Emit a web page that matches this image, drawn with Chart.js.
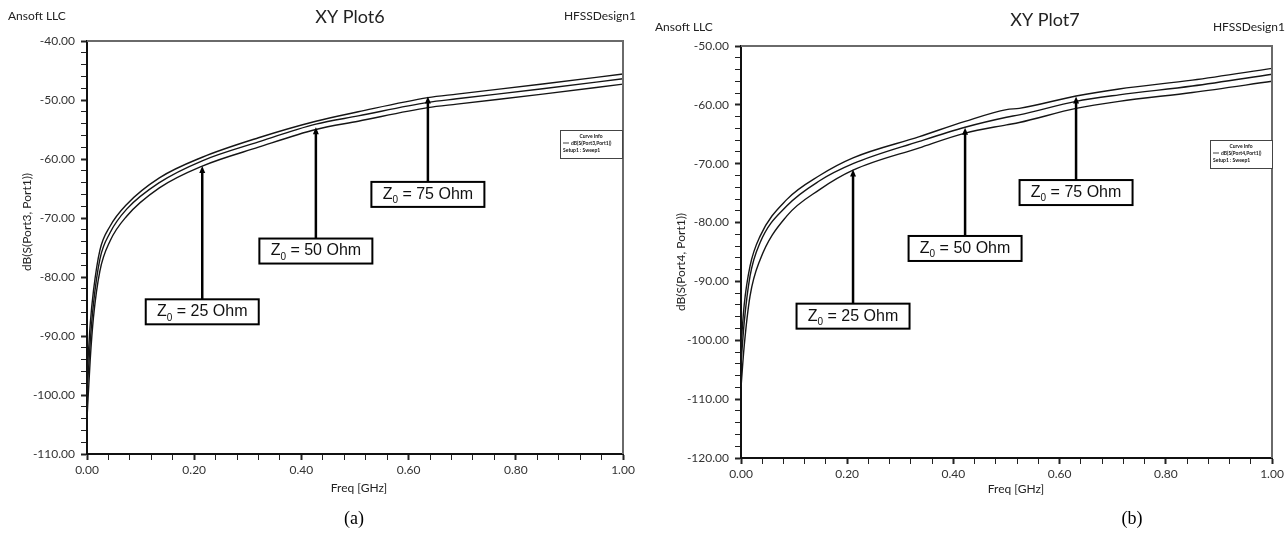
<!DOCTYPE html>
<html>
<head>
<meta charset="utf-8">
<script src="https://cdn.jsdelivr.net/npm/chart.js@4.4.1/dist/chart.umd.min.js"></script>
<style>
	html, body { margin: 0; padding: 0; background: #fff; }
	#wrapA { position: absolute; left: 0; top: 0; width: 640px; height: 533px; }
	#wrapB { position: absolute; left: 640px; top: 0; width: 647px; height: 533px; }
</style>
</head>
<body>
<div id="wrapA"><canvas id="plotA" width="640" height="533"></canvas></div>
<div id="wrapB"><canvas id="plotB" width="647" height="533"></canvas></div>
<script>
// (a) XY Plot6 : dB(S(Port3,Port1))
const freqA = [0, 0.006, 0.012, 0.024, 0.043, 0.074, 0.135, 0.215, 0.32, 0.427, 0.506, 0.636, 0.69, 0.85, 1.0];
const z75A = [-97, -88, -82.4, -75.5, -71.4, -67.7, -63.2, -59.7, -56.4, -53.6, -52.0, -49.6, -49.0, -47.3, -45.6];
const z50A = [-100, -91, -84.6, -77.0, -72.5, -68.5, -64.0, -60.3, -57.1, -54.1, -52.7, -50.4, -49.8, -48.1, -46.4];
const z25A = [-104, -94, -86.9, -79.0, -73.9, -69.7, -64.9, -61.2, -58.0, -55.0, -53.6, -51.3, -50.7, -49.0, -47.3];

// (b) XY Plot7 : dB(S(Port4,Port1))
const freqB = [0, 0.006, 0.017, 0.036, 0.086, 0.148, 0.211, 0.336, 0.422, 0.50, 0.524, 0.631, 0.712, 0.85, 1.0];
const z75B = [-101, -94, -87.4, -82.3, -76.1, -72.0, -69.0, -65.4, -62.8, -60.8, -60.6, -58.5, -57.3, -55.8, -53.8];
const z50B = [-104, -97, -89.1, -83.4, -77.2, -72.9, -70.0, -66.2, -63.8, -62.1, -61.7, -59.4, -58.3, -56.8, -54.8];
const z25B = [-108, -101, -92.5, -86.3, -78.9, -74.4, -71.1, -67.3, -64.8, -63.4, -63.0, -60.6, -59.4, -57.9, -56.0];

// arrow labels
const noteOhms = ['25', '50', '75'];
const noteFreqA = [0.215, 0.427, 0.636];
const noteTipA = [-61.2, -54.6, -49.4];
const noteBoxA = [-85.9, -75.6, -66.0];
const noteFreqB = [0.211, 0.422, 0.631];
const noteTipB = [-71.0, -63.9, -58.6];
const noteBoxB = [-95.9, -84.4, -74.9];

const uiFont = 'Lato, "Open Sans", sans-serif';

function toPoints(xs, ys) {
	return xs.map((x, i) => ({x: x, y: ys[i]}));
}

function makeDataset(xs, ys) {
	return {
		data: toPoints(xs, ys),
		borderColor: '#151515',
		borderWidth: 1.4,
		pointRadius: 0,
		fill: false,
		cubicInterpolationMode: 'monotone'
	};
}

function drawNote(ctx, chart, f, tip, boxY, ohm) {
	let xs = chart.scales.x;
	let ys = chart.scales.y;
	let x = xs.getPixelForValue(f);
	let yTip = ys.getPixelForValue(tip);
	let yBox = ys.getPixelForValue(boxY);
	let w = 113, h = 25;
	let top = yBox - h / 2;

	ctx.save();
	ctx.strokeStyle = '#000';
	ctx.fillStyle = '#000';
	ctx.lineWidth = 2.5;
	ctx.beginPath();
	ctx.moveTo(x, top);
	ctx.lineTo(x, yTip + 4);
	ctx.stroke();
	ctx.beginPath();
	ctx.moveTo(x, yTip);
	ctx.lineTo(x - 3, yTip + 7);
	ctx.lineTo(x + 3, yTip + 7);
	ctx.closePath();
	ctx.fill();

	ctx.fillStyle = '#fff';
	ctx.fillRect(x - w / 2, top, w, h);
	ctx.lineWidth = 2;
	ctx.strokeRect(x - w / 2, top, w, h);

	ctx.fillStyle = '#111';
	ctx.textBaseline = 'middle';
	ctx.textAlign = 'left';
	ctx.font = '16px "Liberation Sans", Arial, sans-serif';
	let rest = ' = ' + ohm + ' Ohm';
	let zw = ctx.measureText('Z').width;
	ctx.font = '10px "Liberation Sans", Arial, sans-serif';
	let sw = ctx.measureText('0').width;
	ctx.font = '16px "Liberation Sans", Arial, sans-serif';
	let rw = ctx.measureText(rest).width;
	let sx = x - (zw + sw + rw) / 2;
	ctx.fillText('Z', sx, yBox);
	ctx.font = '10px "Liberation Sans", Arial, sans-serif';
	ctx.fillText('0', sx + zw, yBox + 6);
	ctx.font = '16px "Liberation Sans", Arial, sans-serif';
	ctx.fillText(rest, sx + zw + sw, yBox);
	ctx.restore();
}

const hfssDecor = {
	id: 'hfssDecor',
	afterDraw(chart, args, opts) {
		let ctx = chart.ctx;
		let area = chart.chartArea;
		ctx.save();

		// top and right frame
		ctx.strokeStyle = '#6a6a6a';
		ctx.lineWidth = 2;
		ctx.beginPath();
		ctx.moveTo(area.left, area.top);
		ctx.lineTo(area.right, area.top);
		ctx.lineTo(area.right, area.bottom);
		ctx.stroke();

		// header texts
		ctx.fillStyle = '#222';
		ctx.textBaseline = 'middle';
		ctx.font = '12px ' + uiFont;
		ctx.textAlign = 'left';
		ctx.fillText('Ansoft LLC', opts.leftHead[0], opts.leftHead[1]);
		ctx.textAlign = 'right';
		ctx.fillText('HFSSDesign1', opts.rightHead[0], opts.rightHead[1]);
		ctx.textAlign = 'center';
		ctx.font = '18px ' + uiFont;
		ctx.fillText(opts.title, opts.titlePos[0], opts.titlePos[1]);

		// axis titles
		ctx.font = '12px ' + uiFont;
		ctx.fillText('Freq [GHz]', opts.xTitlePos[0], opts.xTitlePos[1]);
		ctx.save();
		ctx.translate(opts.yTitlePos[0], opts.yTitlePos[1]);
		ctx.rotate(-Math.PI / 2);
		ctx.fillText(opts.yTitle, 0, 0);
		ctx.restore();

		// caption
		ctx.fillStyle = '#000';
		ctx.font = '18px "Liberation Serif", "Times New Roman", serif';
		ctx.fillText(opts.caption, opts.captionPos[0], opts.captionPos[1]);

		// curve info box
		let lb = opts.legendBox;
		ctx.fillStyle = '#fff';
		ctx.fillRect(lb[0], lb[1], lb[2], lb[3]);
		ctx.strokeStyle = '#444';
		ctx.lineWidth = 1;
		ctx.strokeRect(lb[0] + 0.5, lb[1] + 0.5, lb[2], lb[3]);
		ctx.fillStyle = '#111';
		ctx.font = 'bold 5px ' + uiFont;
		ctx.textAlign = 'center';
		ctx.fillText('Curve Info', lb[0] + lb[2] / 2, lb[1] + 6);
		ctx.textAlign = 'left';
		ctx.fillText(opts.legendText, lb[0] + 11, lb[1] + 13);
		ctx.fillText('Setup1 : Sweep1', lb[0] + 3, lb[1] + 20);
		ctx.beginPath();
		ctx.moveTo(lb[0] + 3, lb[1] + 13);
		ctx.lineTo(lb[0] + 9, lb[1] + 13);
		ctx.stroke();

		ctx.restore();

		for (let i = 0; i < opts.ohms.length; i++) {
			drawNote(ctx, chart, opts.noteFreq[i], opts.noteTip[i], opts.noteBox[i], opts.ohms[i]);
		}
	}
};

function createPlot(canvas, sets, yMin, yMax, area, decor) {
	let isMajorX = (v) => Math.round(v * 100) % 20 === 0;
	let isMajorY = (v) => Math.round(v) % 10 === 0;

	let xScaleConfig = {
		type: 'linear',
		min: 0,
		max: 1,
		ticks: {
			stepSize: 0.04,
			autoSkip: false,
			maxRotation: 0,
			padding: 3,
			color: '#333',
			font: {family: uiFont, size: 12},
			callback: (v) => isMajorX(v) ? v.toFixed(2) : ''
		},
		grid: {
			drawOnChartArea: false,
			tickLength: 6,
			tickColor: '#222',
			tickWidth: (c) => isMajorX(c.tick.value) ? 2 : 1
		},
		border: {color: '#111', width: 2},
		afterFit: (scale) => { scale.height = area.xHeight; }
	};

	let yScaleConfig = {
		min: yMin,
		max: yMax,
		ticks: {
			stepSize: 2,
			autoSkip: false,
			padding: 6,
			color: '#333',
			font: {family: uiFont, size: 12},
			callback: (v) => isMajorY(v) ? v.toFixed(2) : ''
		},
		grid: {
			drawOnChartArea: false,
			tickLength: 6,
			tickColor: '#222',
			tickWidth: (c) => isMajorY(c.tick.value) ? 2 : 1
		},
		border: {color: '#111', width: 2},
		afterFit: (scale) => { scale.width = area.yWidth; }
	};

	let config = {
		type: 'line',
		data: {datasets: sets},
		options: {
			responsive: false,
			animation: false,
			devicePixelRatio: 1,
			layout: {padding: {left: 0, top: area.top, right: area.right, bottom: 0}},
			scales: {x: xScaleConfig, y: yScaleConfig},
			plugins: {
				legend: {display: false},
				tooltip: {enabled: false},
				hfssDecor: decor
			}
		},
		plugins: [hfssDecor]
	};

	return new Chart(canvas.getContext('2d'), config);
}

document.addEventListener('DOMContentLoaded', () => {
	createPlot(document.getElementById('plotA'),
		[makeDataset(freqA, z75A), makeDataset(freqA, z50A), makeDataset(freqA, z25A)],
		-110, -40,
		{top: 41, right: 17, yWidth: 87, xHeight: 79},
		{
			title: 'XY Plot6', titlePos: [350, 17],
			leftHead: [8, 16], rightHead: [636, 16],
			yTitle: 'dB(S(Port3, Port1))', yTitlePos: [27, 222],
			xTitlePos: [359, 488],
			caption: '(a)', captionPos: [354, 519],
			legendBox: [560, 130, 62, 28], legendText: 'dB(S(Port3,Port1))',
			ohms: noteOhms, noteFreq: noteFreqA, noteTip: noteTipA, noteBox: noteBoxA
		});

	createPlot(document.getElementById('plotB'),
		[makeDataset(freqB, z75B), makeDataset(freqB, z50B), makeDataset(freqB, z25B)],
		-120, -50,
		{top: 46, right: 15, yWidth: 101, xHeight: 75},
		{
			title: 'XY Plot7', titlePos: [405, 20],
			leftHead: [15, 27], rightHead: [645, 27],
			yTitle: 'dB(S(Port4, Port1))', yTitlePos: [41, 262],
			xTitlePos: [376, 489],
			caption: '(b)', captionPos: [492, 519],
			legendBox: [570, 140, 62, 28], legendText: 'dB(S(Port4,Port1))',
			ohms: noteOhms, noteFreq: noteFreqB, noteTip: noteTipB, noteBox: noteBoxB
		});
});
</script>
</body>
</html>
